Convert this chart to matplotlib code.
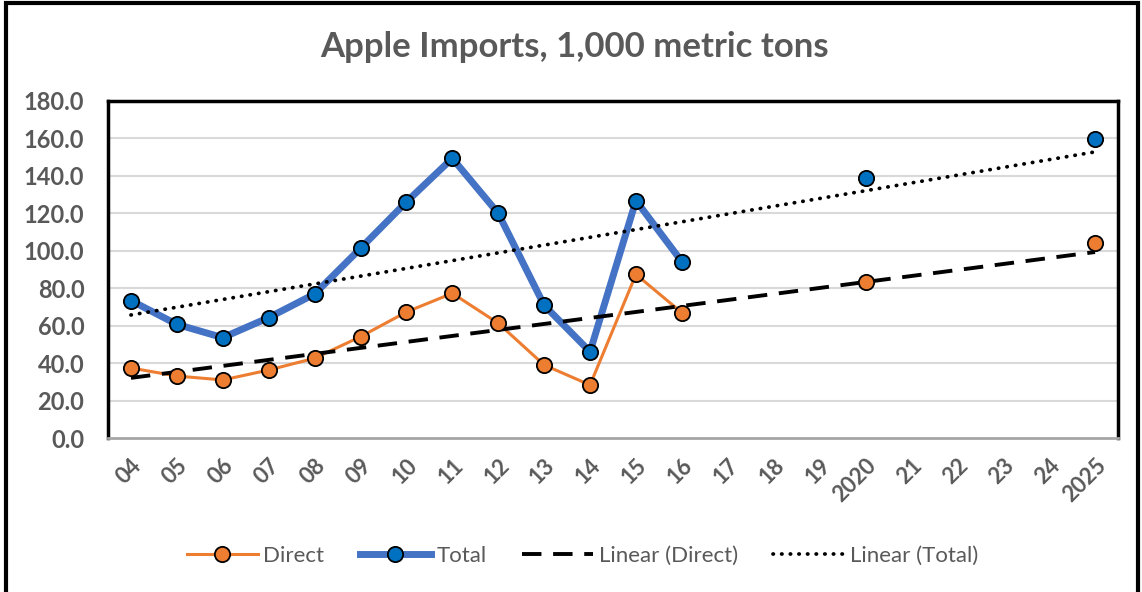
import numpy as np
import matplotlib.pyplot as plt
from matplotlib.patches import Rectangle

plt.rcParams['font.family'] = ['Lato', 'DejaVu Sans']

years = ['04', '05', '06', '07', '08', '09', '10', '11', '12', '13', '14', '15', '16',
         '17', '18', '19', '2020', '21', '22', '23', '24', '2025']
direct = [37.4, 33.1, 31.0, 36.3, 42.6, 54.1, 67.3, 77.3, 61.3, 39.0, 28.3, 87.4, 66.9,
          None, None, None, 83.5, None, None, None, None, 104.3]
total = [73.4, 60.7, 53.6, 64.3, 76.9, 101.3, 126.1, 149.4, 120.0, 70.9, 46.1, 126.8, 94.2,
         None, None, None, 139.0, None, None, None, None, 159.9]

grey = '#595959'
x = np.arange(len(years))
d = np.array([np.nan if v is None else v for v in direct])
t = np.array([np.nan if v is None else v for v in total])

fig = plt.figure(figsize=(11.42, 5.92), dpi=100)
ax = fig.add_axes([108 / 1142, 1 - 438 / 592, 1010 / 1142, 337 / 592])

# frame around the whole chart
fig.patches.append(Rectangle((6 / 1142, -0.1), 1132 / 1142, 1.1 - 3 / 592,
                             transform=fig.transFigure, fill=False,
                             edgecolor='black', linewidth=3))

for yv in np.arange(20, 181, 20):
    ax.axhline(yv, color='#D9D9D9', linewidth=1.5, zorder=0)


def draw_series(vals, color, lw, mfc, label):
    ok = ~np.isnan(vals)
    # connect only consecutive years (gaps stay open)
    ax.plot(x, vals, color=color, linewidth=lw, zorder=3,
            solid_capstyle='round')
    ax.plot(x[ok], vals[ok], linestyle='none', marker='o', markersize=11,
            markerfacecolor=mfc, markeredgecolor='black', markeredgewidth=1.3,
            zorder=5)
    return ax.plot([], [], color=color, linewidth=lw, marker='o', markersize=11,
                   markerfacecolor=mfc, markeredgecolor='black',
                   markeredgewidth=1.3, label=label)[0]


h1 = draw_series(d, '#ED7D31', 2.2, '#ED7D31', 'Direct')
h2 = draw_series(t, '#4472C4', 5, '#0070C0', 'Total')

# linear trendlines over category index 1..n
okd = ~np.isnan(d)
okt = ~np.isnan(t)
pd_ = np.polyfit(x[okd] + 1, d[okd], 1)
pt_ = np.polyfit(x[okt] + 1, t[okt], 1)
h3, = ax.plot(x, np.polyval(pd_, x + 1), color='black', linewidth=2.8,
              linestyle=(0, (5, 3)), zorder=4, label='Linear (Direct)')
h4, = ax.plot(x, np.polyval(pt_, x + 1), color='black', linewidth=2.7,
              linestyle=(0, (0.1, 2.2)), dash_capstyle='round', zorder=4,
              label='Linear (Total)')

ax.set_xlim(-0.5, len(years) - 0.5)
ax.set_ylim(0, 180)
ax.set_yticks(np.arange(0, 181, 20))
ax.set_yticklabels([f'{v:.1f}' for v in np.arange(0, 181, 20)])
ax.set_xticks(x)
ax.set_xticklabels(years, rotation=45, ha='right', rotation_mode='anchor')
ax.tick_params(axis='both', length=0, labelcolor=grey)
ax.tick_params(axis='y', labelsize=17, pad=17)
ax.tick_params(axis='x', labelsize=16, pad=12)
for lab in ax.get_xticklabels() + ax.get_yticklabels():
    lab.set_fontweight('bold')

for side in ['left', 'top', 'right']:
    ax.spines[side].set_linewidth(2.5)
    ax.spines[side].set_color('black')
ax.spines['bottom'].set_color('#A6A6A6')
ax.spines['bottom'].set_linewidth(2)

fig.text(0.503, 1 - 47 / 592, 'Apple Imports, 1,000 metric tons', ha='center',
         va='center', fontsize=25, fontweight='bold', color=grey)

fig.legend(handles=[h1, h2, h3, h4], loc='center', ncol=4,
           bbox_to_anchor=(0.51, 1 - 556 / 592), frameon=False, fontsize=16,
           labelcolor=grey, handlelength=3.2, handletextpad=0.25,
           columnspacing=1.6)

fig.savefig('out.png', dpi=100)
